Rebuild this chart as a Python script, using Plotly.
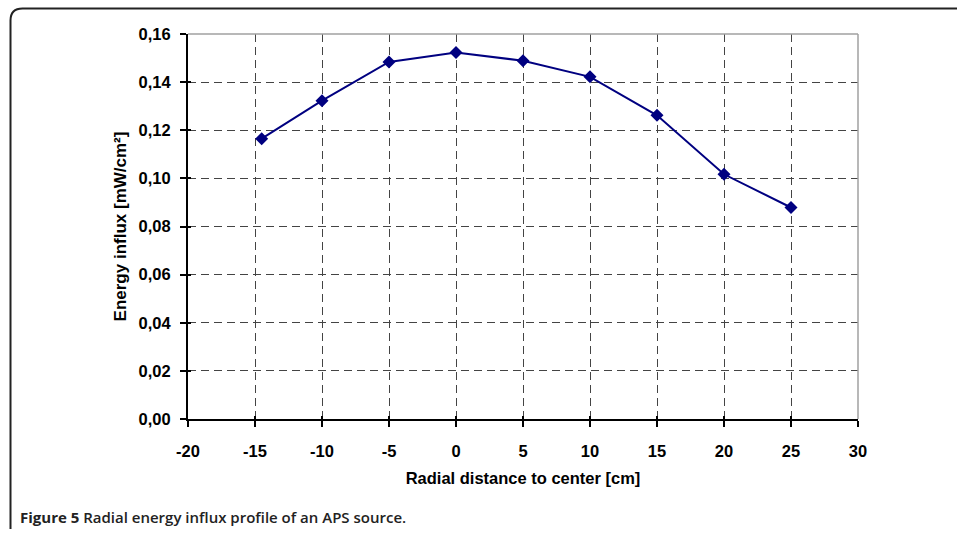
import plotly.graph_objects as go

x_cm = [-14.5, -10, -5, 0, 5, 10, 15, 20, 25]
influx = [0.1165, 0.1323, 0.1484, 0.1523, 0.1489, 0.1422, 0.1262, 0.1017, 0.0879]
x_ticks = [-20, -15, -10, -5, 0, 5, 10, 15, 20, 25, 30]
x_ticktext = ["-20", "-15", "-10", "-5", "0", "5", "10", "15", "20", "25", "30"]
y_ticks = [0.0, 0.02, 0.04, 0.06, 0.08, 0.10, 0.12, 0.14, 0.16]
y_ticktext = ["0,00", "0,02", "0,04", "0,06", "0,08", "0,10", "0,12", "0,14", "0,16"]

W, H = 957, 533
L, R, T, B = 188, 99, 34, 114

fig = go.Figure()
fig.add_trace(go.Scatter(
    x=x_cm, y=influx, mode="lines+markers",
    line=dict(color="#000080", width=2),
    marker=dict(symbol="diamond", size=10, color="#000080"),
    showlegend=False, cliponaxis=False,
))
fig.add_trace(go.Scatter(x=[None], y=[None], xaxis="x2", yaxis="y2", showlegend=False))

tickfont = dict(family="Liberation Sans, Arial", size=16.5, color="#000000")
bold = lambda lst: [f"<b>{t}</b>" for t in lst]
fig.update_layout(
    width=W, height=H,
    margin=dict(l=L, r=R, t=T, b=B, pad=0),
    paper_bgcolor="white", plot_bgcolor="white",
    xaxis=dict(
        range=[-20, 30], tickmode="array", tickvals=x_ticks, ticktext=bold(x_ticktext),
        tickfont=tickfont, ticks="outside", ticklen=6, tickwidth=2, tickcolor="black",
        ticklabelstandoff=10,
        showline=True, linecolor="black", linewidth=2, mirror=False,
        showgrid=True, gridcolor="#444444", griddash="8px,5px", gridwidth=1,
        zeroline=False,
        title=dict(text="<b>Radial distance to center [cm]</b>",
                   font=dict(family="Liberation Sans, Arial", size=16.5, color="black"),
                   standoff=14),
    ),
    yaxis=dict(
        range=[0, 0.16], tickmode="array", tickvals=y_ticks, ticktext=bold(y_ticktext),
        tickfont=tickfont, ticks="outside", ticklen=6, tickwidth=1.5, tickcolor="black",
        ticklabelstandoff=6,
        showline=True, linecolor="black", linewidth=2, mirror=False,
        showgrid=True, gridcolor="#444444", griddash="8px,5px", gridwidth=1,
        zeroline=False,
        title=dict(text="<b>Energy influx [mW/cm²]</b>",
                   font=dict(family="Liberation Sans, Arial", size=17, color="black"),
                   standoff=8),
    ),
    xaxis2=dict(
        range=[-20, 30], overlaying="x", tickmode="array", tickvals=x_ticks,
        showticklabels=False, ticks="inside", ticklen=3, tickwidth=2, tickcolor="black",
        showgrid=False, zeroline=False, showline=False,
    ),
    yaxis2=dict(
        range=[0, 0.16], overlaying="y", tickmode="array", tickvals=y_ticks,
        showticklabels=False, ticks="inside", ticklen=3, tickwidth=1.5, tickcolor="black",
        showgrid=False, zeroline=False, showline=False,
    ),
)

fig.add_shape(type="line", xref="paper", yref="paper", x0=0, x1=1, y0=1, y1=1,
              line=dict(color="#a0a0a0", width=1.5), layer="above")
fig.add_shape(type="line", xref="paper", yref="paper", x0=1, x1=1, y0=0, y1=1,
              line=dict(color="#a0a0a0", width=1.5), layer="above")

def px(xp):
    return (xp - L) / (W - L - R)

def py(yp):
    return (H - B - yp) / (H - T - B)

x_left, y_top, y_bot, r = 10.5, 8.5, 529, 12
path = (f"M {px(W+20)},{py(y_top)} L {px(x_left + r)},{py(y_top)} "
        f"Q {px(x_left)},{py(y_top)} {px(x_left)},{py(y_top + r)} "
        f"L {px(x_left)},{py(y_bot)}")
fig.add_shape(type="path", xref="paper", yref="paper", path=path,
              line=dict(color="#222222", width=2))

fig.add_annotation(
    xref="paper", yref="paper", x=px(18), y=py(517), xanchor="left", yanchor="middle",
    text="<b>Figure 5</b> <span style='font-weight:600'>Radial energy influx profile of an APS source.</span>",
    showarrow=False, font=dict(family="Open Sans, Noto Sans", size=15, color="#222222"),
)

fig.write_html("out.html")
